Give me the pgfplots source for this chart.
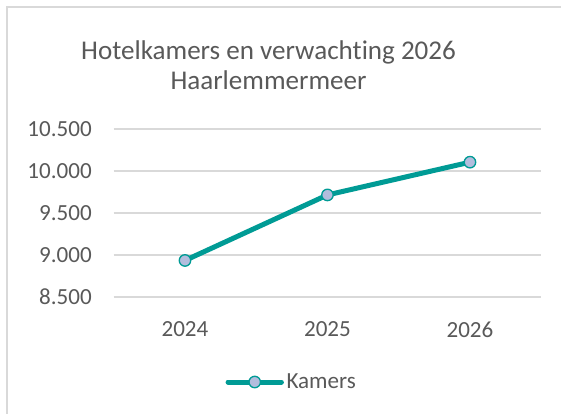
\documentclass[border=0pt]{standalone}
\usepackage{pgfplots}
\pgfplotsset{compat=1.18}
\usepackage{fontspec}
\setmainfont{Carlito}[Ligatures=NoCommon]
\definecolor{teallijn}{HTML}{009B95}
\definecolor{markvul}{HTML}{B3BDDD}
\definecolor{tekstgrijs}{HTML}{595959}
\definecolor{rastergrijs}{HTML}{D9D9D9}
\begin{document}
\begin{tikzpicture}
  \useasboundingbox (0,0) rectangle (420.75pt,310.5pt);
  % kader (rechts en onder afgesneden)
  \draw[rastergrijs, line width=1.2pt] (5.25pt,0pt) -- (5.25pt,305.25pt) -- (420.75pt,305.25pt);
  % titel
  \node[anchor=base, text=tekstgrijs, font=\fontsize{20.3}{24}\selectfont] at (201.4pt,265.5pt) {Hotelkamers en verwachting 2026};
  \node[anchor=base, text=tekstgrijs, font=\fontsize{20.3}{24}\selectfont] at (201.4pt,243pt) {Haarlemmermeer};
  \begin{axis}[
    at={(85.31pt,87.75pt)},
    anchor=south west,
    scale only axis,
    width=320.6pt,
    height=126pt,
    xmin=-0.5, xmax=2.5,
    ymin=8500, ymax=10500,
    xtick={0,1,2},
    xticklabels={2024,2025,2026},
    ytick={8500,9000,...,10500},
    scaled y ticks=false,
    yticklabel={\pgfmathprintnumber[fixed, precision=0, 1000 sep={.}, assume math mode=true]{\tick}},
    axis line style={draw=none},
    tick style={draw=none},
    ymajorgrids,
    grid style={rastergrijs, line width=0.9pt},
    tick label style={text=tekstgrijs, font=\fontsize{17.3}{20}\selectfont},
    xticklabel style={yshift=-15pt},
    yticklabel style={xshift=-13pt},
    legend style={at={(0.417,-0.506)}, anchor=center, draw=none, fill=none,
      text=tekstgrijs, font=\fontsize{17.3}{20}\selectfont,
      inner sep=0pt},
    legend image code/.code={
      \draw[teallijn, line width=3.75pt, line cap=round] (0pt,0pt) -- (40pt,0pt);
      \draw[teallijn, fill=markvul, line width=1pt] (20pt,0pt) circle (4.3pt);
    },
    legend cell align=left,
  ]
    \addplot[teallijn, line width=3.75pt, line join=round,
      mark=*, mark size=4.3pt,
      mark options={draw=teallijn, fill=markvul, line width=1pt}]
      coordinates {(0,8935) (1,9715) (2,10105)};
    \addlegendentry{Kamers}
  \end{axis}
\end{tikzpicture}
\end{document}
